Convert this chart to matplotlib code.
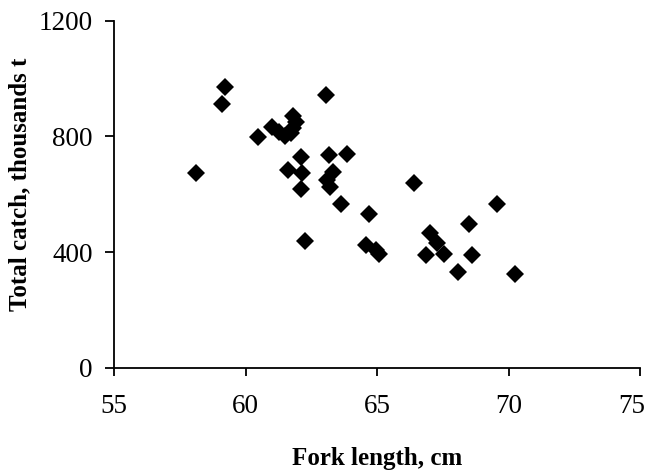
import matplotlib
matplotlib.use("Agg")
import matplotlib.pyplot as plt
import matplotlib.transforms as mtransforms

# fork length (cm) vs total catch (thousands t)
fork_length = [58.1, 59.2, 59.1, 60.45, 61.0, 61.25, 61.5, 61.7, 61.8, 61.9, 61.8,
               62.1, 61.6, 62.15, 62.1, 62.25, 63.05, 63.15, 63.85, 63.3, 63.1,
               63.2, 63.6, 64.7, 64.55, 64.95, 65.05, 66.4, 66.85, 67.0, 67.25,
               67.55, 68.05, 68.5, 68.6, 69.55, 70.25]
total_catch = [674, 969, 911, 797, 833, 815, 800, 812, 830, 850, 872,
               728, 684, 672, 618, 439, 943, 735, 740, 678, 649,
               624, 567, 531, 424, 408, 392, 640, 390, 465, 430,
               393, 330, 498, 390, 567, 324]

plt.rcParams["font.family"] = ["Liberation Serif", "DejaVu Serif"]

fig = plt.figure(figsize=(6.52, 4.70), dpi=100)
ax = fig.add_axes([0.1753, 0.2177, 0.807, 0.7383])

ax.plot(fork_length, total_catch, linestyle="none", marker="D",
        markersize=9.2, color="black", markeredgewidth=0)

ax.set_xlim(55, 75)
ax.set_ylim(0, 1200)
ax.set_xticks([55, 60, 65, 70, 75])
ax.set_yticks([0, 400, 800, 1200])

for s in ("top", "right"):
    ax.spines[s].set_visible(False)
for s in ("left", "bottom"):
    ax.spines[s].set_linewidth(1.3)

ax.tick_params(axis="x", direction="out", length=6, width=1.3,
               labelsize=19.5, pad=13)
ax.tick_params(axis="y", direction="out", length=6.5, width=1.3,
               labelsize=19.5, pad=9)

# last x label is nudged left so it stays inside the figure
last = ax.get_xticklabels()[-1]
last.set_transform(last.get_transform() +
                   mtransforms.ScaledTranslation(-6 / 72, 0, fig.dpi_scale_trans))

ax.set_xlabel("Fork length, cm", fontsize=18, fontweight="bold", labelpad=20)
ax.set_ylabel("Total catch, thousands t", fontsize=18, fontweight="bold")
ax.yaxis.set_label_coords(-0.157, 0.527)

fig.savefig("out.png", dpi=100)
